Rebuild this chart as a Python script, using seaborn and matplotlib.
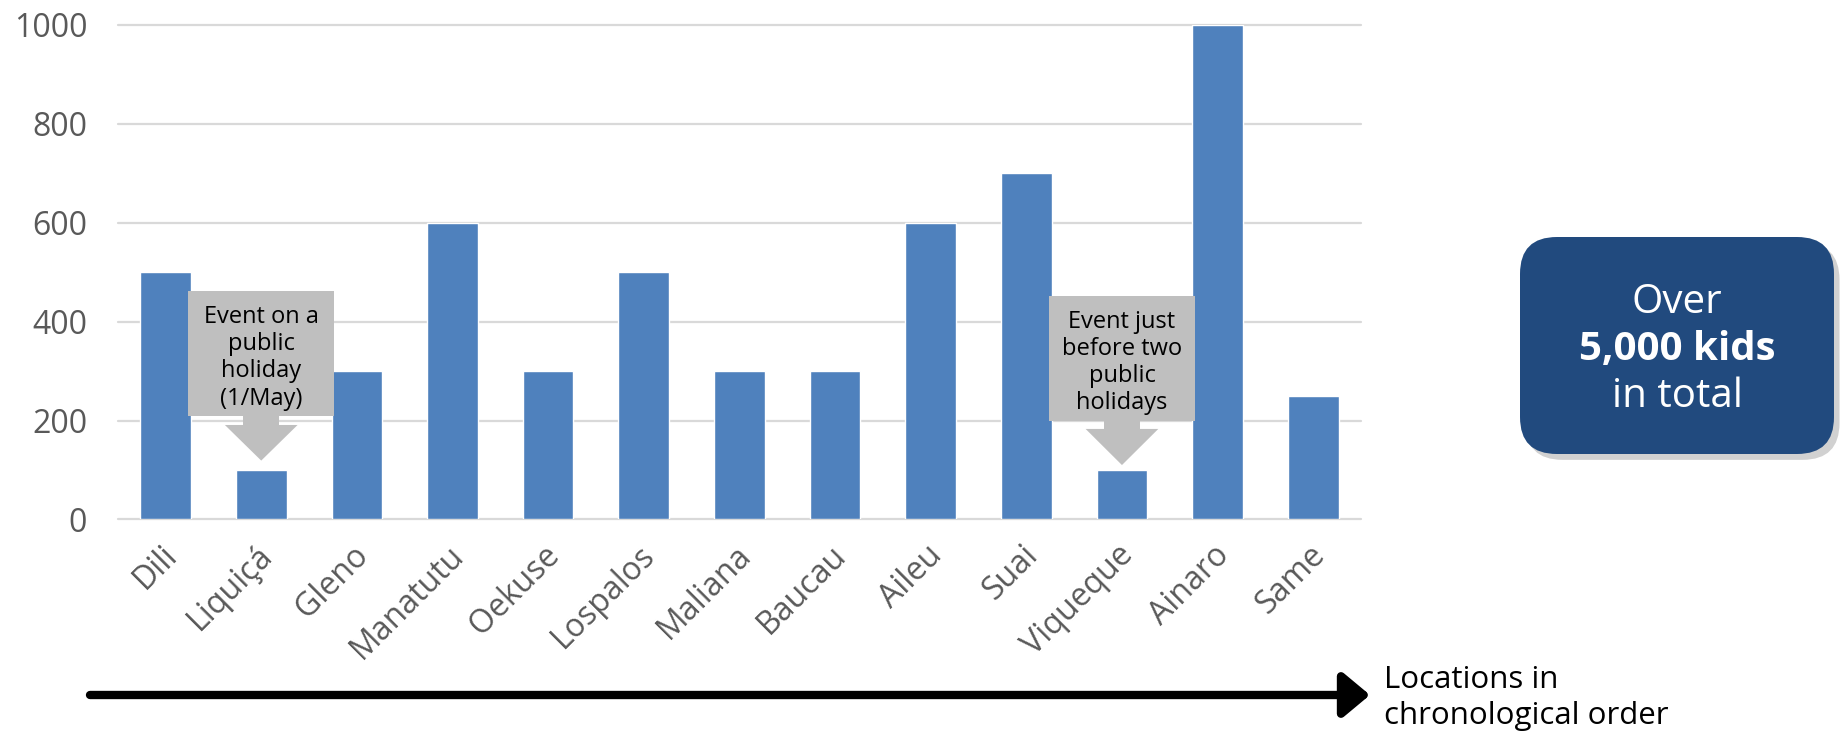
import matplotlib
matplotlib.use("Agg")
import matplotlib.pyplot as plt
import seaborn as sns
import pandas as pd
from matplotlib.patches import Rectangle, Polygon, FancyBboxPatch, FancyArrowPatch

locations = ["Dili", "Liquiçá", "Gleno", "Manatutu", "Oekuse", "Lospalos", "Maliana",
             "Baucau", "Aileu", "Suai", "Viqueque", "Ainaro", "Same"]
kids = [500, 100, 300, 600, 300, 500, 300, 300, 600, 700, 100, 1000, 250]
yticks = [0, 200, 400, 600, 800, 1000]

note1 = "Event on a\npublic\nholiday\n(1/May)"
note2 = "Event just\nbefore two\npublic\nholidays"
box_line1 = "Over"
box_line2 = "5,000 kids"
box_line3 = "in total"
axis_line1 = "Locations in"
axis_line2 = "chronological order"

sns.set_theme(style="white")
plt.rcParams['font.family'] = ['Open Sans', 'DejaVu Sans']

df = pd.DataFrame({"location": locations, "kids": kids})

W, H = 1843, 733
fig = plt.figure(figsize=(W / 100, H / 100), dpi=100)
ax = fig.add_axes([0.0639, 0.2913, 0.6746, 0.675])

sns.barplot(data=df, x="location", y="kids", color="#4F81BD", saturation=1,
            width=0.53, ax=ax, zorder=3)
ax.set_ylim(0, 1000)
ax.set_xlim(-0.5, len(locations) - 0.5)
ax.set_yticks(yticks)
ax.set_yticklabels([str(t) for t in yticks])
for t in yticks:
    ax.axhline(t, color="#D9D9D9", lw=1.6, zorder=1, clip_on=False)
for s in ax.spines.values():
    s.set_visible(False)
ax.set_xlabel("")
ax.set_ylabel("")
ax.tick_params(axis="y", length=0, pad=22, labelsize=23, labelcolor="#595959")
ax.tick_params(axis="x", length=0, pad=14, labelsize=23, labelcolor="#595959")
plt.setp(ax.get_xticklabels(), rotation=45, ha="right", rotation_mode="anchor")
offset = matplotlib.transforms.ScaledTranslation(-5 / 100, 0, fig.dpi_scale_trans)
for lbl in ax.get_xticklabels():
    lbl.set_transform(lbl.get_transform() + offset)


def callout(idx, top, bottom, stem_bot, tip, text):
    half_w = 0.765
    gray = "#BFBFBF"
    ax.add_patch(Rectangle((idx - half_w, bottom), 2 * half_w, top - bottom,
                           facecolor=gray, edgecolor="none", zorder=5))
    stem_w = 0.19
    ax.add_patch(Rectangle((idx - stem_w, stem_bot), 2 * stem_w, bottom - stem_bot,
                           facecolor=gray, edgecolor="none", zorder=5))
    head_w = 0.38
    ax.add_patch(Polygon([(idx - head_w, stem_bot), (idx + head_w, stem_bot), (idx, tip)],
                         closed=True, facecolor=gray, edgecolor="none", zorder=5))
    ax.text(idx, (top + bottom) / 2 - 8, text, ha="center", va="center", fontsize=17,
            color="black", zorder=6, linespacing=1.18)


callout(1, 461, 209, 191, 119, note1)
callout(10, 451, 199, 183, 110, note2)

# summary box
bx0, by0, bw, bh = 1520 / W, 1 - 454 / H, 314 / W, 217 / H
shadow = FancyBboxPatch((bx0 + 0.003, by0 - 0.008), bw, bh,
                        boxstyle="round,pad=0,rounding_size=0.02",
                        transform=fig.transFigure, facecolor="#000000", alpha=0.18,
                        edgecolor="none", mutation_aspect=W / H)
fig.patches.append(shadow)
box = FancyBboxPatch((bx0, by0), bw, bh,
                     boxstyle="round,pad=0,rounding_size=0.02",
                     transform=fig.transFigure, facecolor="#214A7E",
                     edgecolor="none", mutation_aspect=W / H)
fig.patches.append(box)
cx = bx0 + bw / 2
fig.text(cx, 1 - 313 / H, box_line1, ha="center", va="baseline", color="white", fontsize=29)
fig.text(cx, 1 - 360 / H, box_line2, ha="center", va="baseline", color="white", fontsize=29,
         fontweight="bold")
fig.text(cx, 1 - 407 / H, box_line3, ha="center", va="baseline", color="white", fontsize=29)

# chronological arrow
ay = 1 - 695 / H
fig.add_artist(FancyArrowPatch(
    (90 / W, ay), (1370 / W, ay), transform=fig.transFigure,
    arrowstyle="-|>,head_length=0.9,head_width=0.75", mutation_scale=18,
    lw=6, color="black", shrinkA=0, shrinkB=0))
fig.text(1384 / W, 1 - 688 / H, axis_line1, ha="left", va="baseline", fontsize=22.5,
         color="black")
fig.text(1384 / W, 1 - 724 / H, axis_line2, ha="left", va="baseline", fontsize=22.5,
         color="black")

fig.savefig("out.png", dpi=100, facecolor="white")
